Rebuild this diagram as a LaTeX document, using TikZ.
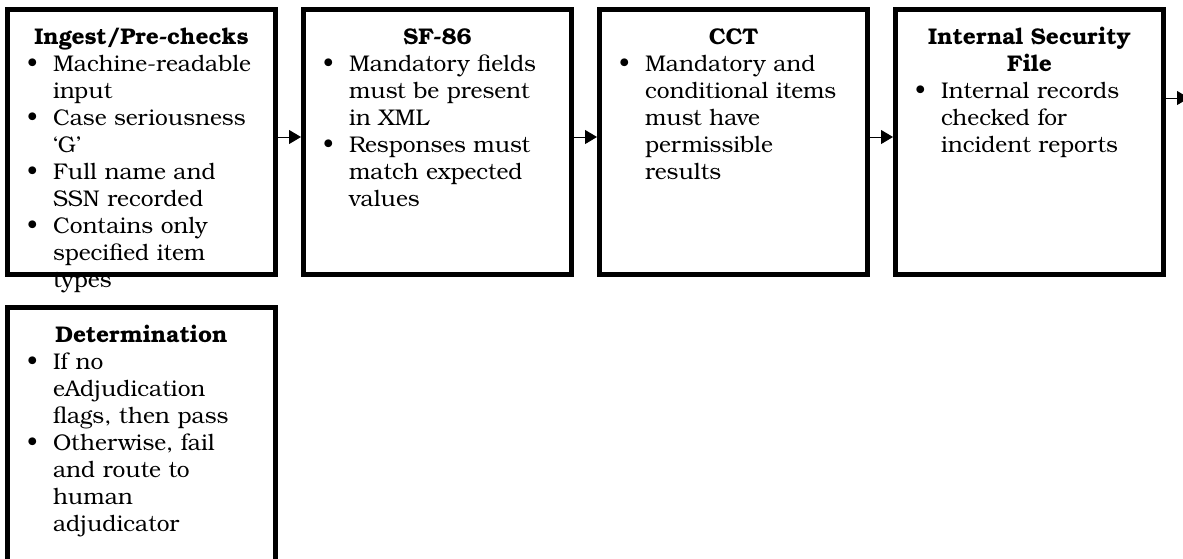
\documentclass[tikz,border=0pt]{standalone}
\usepackage{fontspec}
\setmainfont{TeX Gyre Bonum}
\usepackage{enumitem}
\setlist[itemize]{nosep, label=\textbullet, leftmargin=35.5pt, labelwidth=20pt, labelsep=15.5pt, labelindent=0pt}
\usetikzlibrary{arrows.meta, positioning}

\begin{document}
\begin{tikzpicture}[
    x=1pt, y=1pt,
    stage/.style={rectangle, draw=black, line width=5pt, outer sep=2.5pt, fill=white, text width=248pt, inner xsep=10pt, inner ysep=0pt, text height=34.5pt, text depth=230.5pt, align=left, font=\fontsize{22.7}{27}\selectfont},
    flow/.style={-{Triangle[length=12pt, width=14pt]}, line width=1pt, draw=black}
]

% page frame, the lower box runs past it
\clip (0,0) rectangle (1183,-558);

% ==================== Top row ====================
\node[stage, anchor=north west] (Ingest) at (5,-7) {{\centering\bfseries Ingest/Pre-checks\par}
\begin{itemize}
\item Machine-readable\newline input
\item Case seriousness\newline `G'
\item Full name and\newline SSN recorded
\item Contains only\newline specified item\newline types
\end{itemize}};

\node[stage, right=23pt of Ingest] (SF86) {{\centering\bfseries SF-86\par}
\begin{itemize}
\item Mandatory fields\newline must be present\newline in XML
\item Responses must\newline match expected\newline values
\end{itemize}};

\node[stage, right=23pt of SF86] (CCT) {{\centering\bfseries CCT\par}
\begin{itemize}
\item Mandatory and\newline conditional items\newline must have\newline permissible\newline results
\end{itemize}};

\node[stage, right=23pt of CCT] (ISF) {{\centering\bfseries Internal Security\\ File\par}
\begin{itemize}
\item Internal records\newline checked for\newline incident reports
\end{itemize}};

% ==================== Bottom row ====================
\node[stage, below=28pt of Ingest] (Determination) {{\centering\bfseries Determination\par}
\begin{itemize}
\item If no\newline eAdjudication\newline flags, then pass
\item Otherwise, fail\newline and route to\newline human\newline adjudicator
\end{itemize}};

% Connections
\draw[flow] ([yshift=5pt]Ingest.east) -- ([yshift=5pt]SF86.west);
\draw[flow] ([yshift=5pt]SF86.east) -- ([yshift=5pt]CCT.west);
\draw[flow] ([yshift=5pt]CCT.east) -- ([yshift=5pt]ISF.west);

\coordinate (Exit) at ([xshift=23pt, yshift=44pt]ISF.east);
\draw[flow] ([yshift=44pt]ISF.east) -- (Exit);

\end{tikzpicture}
\end{document}
